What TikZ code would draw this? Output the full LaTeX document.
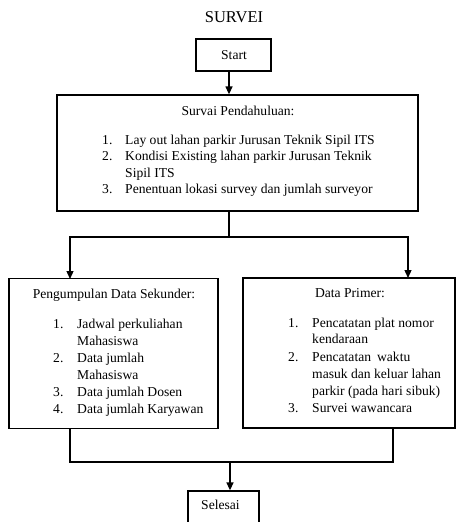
\documentclass[tikz,border=0pt]{standalone}
\usepackage{fontspec}
\setmainfont{Liberation Serif}
\usetikzlibrary{arrows.meta}
\begin{document}
\begin{tikzpicture}[x=1pt,y=-1pt,
  font=\fontsize{13.6}{17}\selectfont,
  box/.style={draw, line width=1.3pt, inner sep=0pt},
  conn/.style={line width=1.3pt},
  arr/.style={conn, -{Triangle[length=8pt,width=7pt]}},
  txt/.style={anchor=base west, inner sep=0pt},
  ctxt/.style={anchor=base, inner sep=0pt}]
\useasboundingbox (0,0) rectangle (456,522);
% title
\node[ctxt, font=\fontsize{16.5}{19}\selectfont] (title) at (234,23) {SURVEI};
% boxes
\node[box, minimum width=75pt, minimum height=32pt] (start) at (233.5,55) {};
\node[ctxt] (starttxt) at (234,59) {Start};
\node[box, minimum width=361pt, minimum height=116pt] (surv) at (237.5,153) {};
\node[box, minimum width=209pt, minimum height=150pt] (sek) at (113.5,353.5) {};
\node[box, minimum width=212pt, minimum height=150pt] (prim) at (349,353) {};
\node[box, minimum width=71pt, minimum height=40pt] (sel) at (223.5,511) {};
\node[ctxt] (seltxt) at (220.5,509) {Selesai};
% Survai text
\node[ctxt] (sh) at (238,115) {Survai Pendahuluan:};
\node[txt] (s1n) at (102,144) {1.};
\node[txt] (s1) at (125,144) {Lay out lahan parkir Jurusan Teknik Sipil ITS};
\node[txt] (s2n) at (102,160.5) {2.};
\node[txt] (s2) at (125,160.5) {Kondisi Existing lahan parkir Jurusan Teknik};
\node[txt] (s2b) at (125,177) {Sipil ITS};
\node[txt] (s3n) at (102,193.5) {3.};
\node[txt] (s3) at (125,193.5) {Penentuan lokasi survey dan jumlah surveyor};
% Sekunder text
\node[ctxt] (kh) at (114,298) {Pengumpulan Data Sekunder:};
\node[txt] (k1n) at (53,328) {1.};
\node[txt] (k1) at (77,328) {Jadwal perkuliahan};
\node[txt] (k1b) at (77,345) {Mahasiswa};
\node[txt] (k2n) at (53,362) {2.};
\node[txt] (k2) at (77,362) {Data jumlah};
\node[txt] (k2b) at (77,379.5) {Mahasiswa};
\node[txt] (k3n) at (53,396.5) {3.};
\node[txt] (k3) at (77,396.5) {Data jumlah Dosen};
\node[txt] (k4n) at (53,413) {4.};
\node[txt] (k4) at (77,413) {Data jumlah Karyawan};
% Primer text
\node[ctxt] (ph) at (350,297) {Data Primer:};
\node[txt] (p1n) at (288,327) {1.};
\node[txt] (p1) at (312,327) {Pencatatan plat nomor};
\node[txt] (p1b) at (312,343.5) {kendaraan};
\node[txt] (p2n) at (288,361) {2.};
\node[txt] (p2) at (312,361) {Pencatatan\hspace{6pt}waktu};
\node[txt] (p2b) at (312,378) {masuk dan keluar lahan};
\node[txt] (p2c) at (312,395.5) {parkir (pada hari sibuk)};
\node[txt] (p3n) at (288,412) {3.};
\node[txt] (p3) at (312,412) {Survei wawancara};
% connectors
\coordinate (split) at (229,237);
\coordinate (sekin) at (70,279);
\coordinate (primin) at (408,278);
\coordinate (sekout) at (70,429);
\coordinate (primout) at (393,428);
\coordinate (merge) at (230,462);
\draw[arr] (start.south -| split) -- (surv.north -| split);
\draw[conn] (surv.south -| split) -- (split);
\draw[arr] (split) -| (sekin);
\draw[arr] (split) -| (primin);
\draw[conn] (sekout) |- (merge) -| (primout);
\draw[arr] (merge) -- (sel.north -| merge);
\end{tikzpicture}
\end{document}
